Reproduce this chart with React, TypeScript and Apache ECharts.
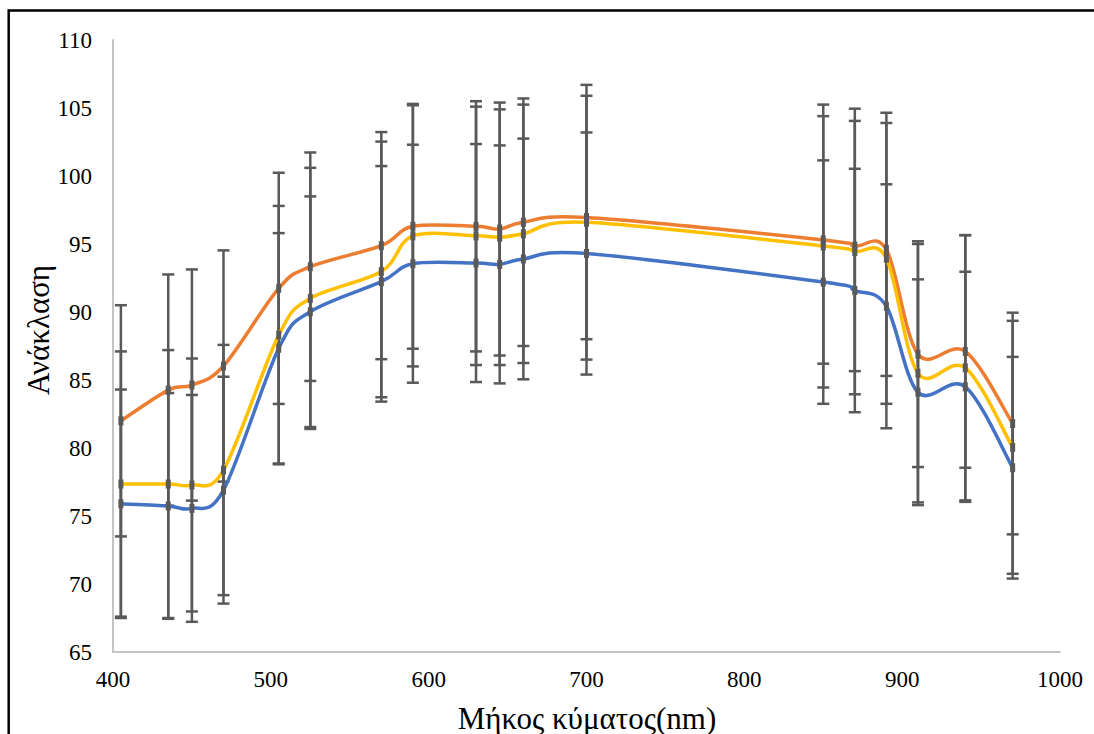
import { useEffect, useRef } from 'react';
import * as echarts from 'echarts';

const wavelengths = [405, 435, 450, 470, 505, 525, 570, 590, 630, 645, 660, 700, 850, 870, 890, 910, 940, 970];

const blueValues = [75.9, 75.74, 75.56, 76.9, 87.33, 90.02, 92.23, 93.55, 93.6, 93.5, 93.9, 94.3, 92.2, 91.58, 90.42, 84.1, 84.5, 78.55];
const blueErrors = [8.4, 8.3, 8.34, 8.34, 8.47, 8.48, 8.5, 8.75, 8.75, 8.75, 8.85, 8.9, 8.95, 8.95, 8.97, 8.3, 8.46, 8.15];

const orangeValues = [82.0, 84.26, 84.63, 86.03, 91.74, 93.33, 94.88, 96.3, 96.3, 96.1, 96.6, 96.95, 95.3, 94.85, 94.6, 86.9, 87.1, 81.8];
const orangeErrors = [8.5, 8.5, 8.5, 8.5, 8.5, 8.4, 8.35, 9.0, 9.2, 9.3, 9.1, 8.95, 9.1, 9.2, 9.3, 8.3, 8.55, 8.15];

const yellowValues = [77.35, 77.35, 77.28, 78.38, 88.3, 91.0, 92.97, 95.6, 95.6, 95.5, 95.75, 96.6, 94.85, 94.45, 93.95, 85.5, 85.9, 80.05];
const yellowErrors = [9.75, 9.85, 9.3, 9.2, 9.5, 9.6, 9.56, 9.6, 9.5, 9.4, 9.5, 10.1, 10.4, 10.5, 10.7, 9.5, 9.75, 9.3];

const xMin = 400;
const xMax = 1000;
const xStep = 100;
const yMin = 65;
const yMax = 110;
const yStep = 5;

const xTitle = 'Μήκος κύματος(nm)';
const yTitle = 'Ανάκλαση';

const FONT = "'Liberation Serif', 'Times New Roman', serif";

function errorSeries(values: number[], errors: number[]) {
  return {
    type: 'custom',
    silent: true,
    z: 1,
    data: wavelengths.map((w, i) => [w, values[i] - errors[i], values[i] + errors[i]]),
    encode: { x: 0, y: [1, 2] },
    renderItem: (_params: any, api: any) => {
      const x = api.value(0);
      const lo = api.coord([x, api.value(1)]);
      const hi = api.coord([x, api.value(2)]);
      const hw = 6;
      const style = { stroke: '#595959', lineWidth: 2.5 };
      return {
        type: 'group',
        children: [
          { type: 'line', shape: { x1: lo[0], y1: lo[1], x2: hi[0], y2: hi[1] }, style },
          { type: 'line', shape: { x1: lo[0] - hw, y1: lo[1], x2: lo[0] + hw, y2: lo[1] }, style },
          { type: 'line', shape: { x1: hi[0] - hw, y1: hi[1], x2: hi[0] + hw, y2: hi[1] }, style },
        ],
      };
    },
  };
}

// Excel-style smoothed line: Catmull-Rom segments converted to cubic Beziers in pixel space
function smoothLineSeries(values: number[], color: string, z: number) {
  const n = wavelengths.length;
  return {
    type: 'custom',
    silent: true,
    z,
    data: wavelengths.map((w, i) => [w, values[i]]),
    encode: { x: 0, y: 1 },
    renderItem: (params: any, api: any) => {
      const i = params.dataIndex;
      if (i >= n - 1) return { type: 'group', children: [] };
      const pt = (j: number) => {
        const k = Math.max(0, Math.min(n - 1, j));
        return api.coord([wavelengths[k], values[k]]);
      };
      const p0 = pt(i - 1);
      const p1 = pt(i);
      const p2 = pt(i + 1);
      const p3 = pt(i + 2);
      return {
        type: 'bezierCurve',
        shape: {
          x1: p1[0],
          y1: p1[1],
          x2: p2[0],
          y2: p2[1],
          cpx1: p1[0] + (p2[0] - p0[0]) / 6,
          cpy1: p1[1] + (p2[1] - p0[1]) / 6,
          cpx2: p2[0] - (p3[0] - p1[0]) / 6,
          cpy2: p2[1] - (p3[1] - p1[1]) / 6,
        },
        style: { stroke: color, lineWidth: 3.5, fill: 'none', lineCap: 'round' },
      };
    },
  };
}

function markerSeries(values: number[]) {
  return {
    type: 'custom',
    silent: true,
    z: 10,
    data: wavelengths.map((w, i) => [w, values[i]]),
    encode: { x: 0, y: 1 },
    renderItem: (_params: any, api: any) => {
      const p = api.coord([api.value(0), api.value(1)]);
      return {
        type: 'rect',
        shape: { x: p[0] - 2.5, y: p[1] - 4.5, width: 5, height: 9 },
        style: { fill: '#595959' },
      };
    },
  };
}

export default function App() {
  const ref = useRef<HTMLDivElement>(null);
  useEffect(() => {
    const chart = echarts.init(ref.current!, null, { renderer: 'svg' });
    chart.setOption({
      animation: false,
      backgroundColor: '#ffffff',
      grid: { left: 113, right: 34, top: 40, bottom: 82, containLabel: false },
      xAxis: {
        type: 'value',
        min: xMin,
        max: xMax,
        interval: xStep,
        axisLine: { show: true, lineStyle: { color: '#C4C4C4', width: 2 } },
        axisTick: { show: false },
        splitLine: { show: false },
        axisLabel: {
          color: '#000',
          fontFamily: FONT,
          fontSize: 23,
          margin: 16,
          formatter: (v: number) => String(v),
        },
      },
      yAxis: {
        type: 'value',
        min: yMin,
        max: yMax,
        interval: yStep,
        axisLine: { show: true, lineStyle: { color: '#C4C4C4', width: 2 } },
        axisTick: { show: false },
        splitLine: { show: false },
        axisLabel: {
          color: '#000',
          fontFamily: FONT,
          fontSize: 23,
          margin: 21,
          formatter: (v: number) => String(v),
        },
      },
      graphic: [
        {
          type: 'rect',
          shape: { x: 8.7, y: 10.5, width: 1200, height: 1000 },
          style: { fill: 'none', stroke: '#000', lineWidth: 2.5 },
          silent: true,
        },
        {
          type: 'text',
          x: 587,
          y: 718,
          style: { text: xTitle, font: `31px ${FONT}`, fill: '#000', align: 'center', verticalAlign: 'middle' },
        },
        {
          type: 'text',
          x: 38,
          y: 330,
          rotation: Math.PI / 2,
          style: { text: yTitle, font: `31px ${FONT}`, fill: '#000', align: 'center', verticalAlign: 'middle' },
        },
      ],
      series: [
        errorSeries(blueValues, blueErrors),
        errorSeries(orangeValues, orangeErrors),
        errorSeries(yellowValues, yellowErrors),
        smoothLineSeries(blueValues, '#4472C4', 3),
        smoothLineSeries(orangeValues, '#ED7D31', 4),
        smoothLineSeries(yellowValues, '#FFC000', 5),
        markerSeries(blueValues),
        markerSeries(orangeValues),
        markerSeries(yellowValues),
      ],
    });
    return () => chart.dispose();
  }, []);
  return (
    <div
      ref={ref}
      style={{ position: 'fixed', left: 0, top: 0, width: 1094, height: 734, background: '#fff' }}
    />
  );
}
